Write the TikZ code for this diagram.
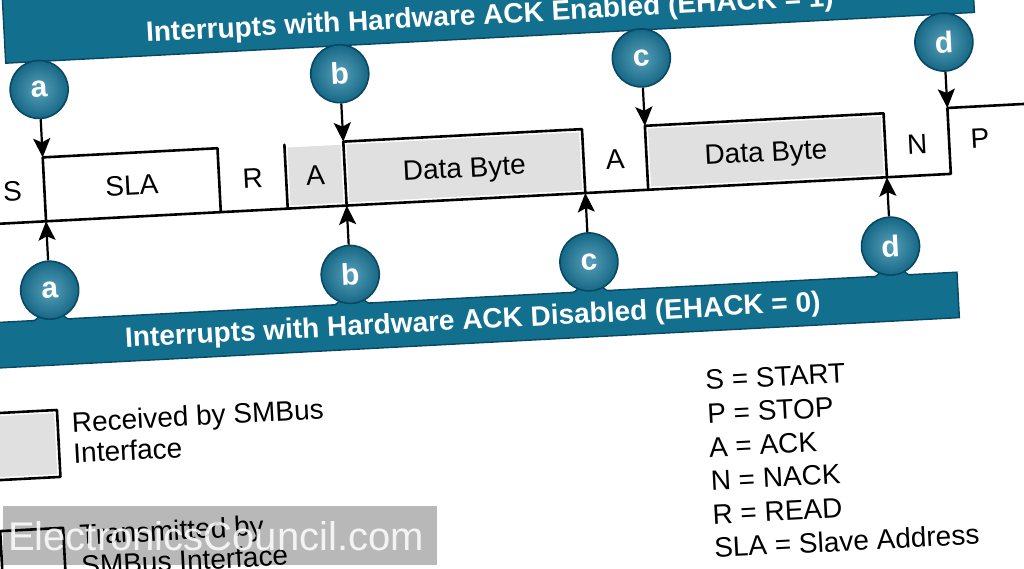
\documentclass[tikz,border=0pt]{standalone}
\usepackage{fontspec}
\setmainfont{Liberation Sans}
\usetikzlibrary{arrows.meta}
\definecolor{barfill}{RGB}{18,112,142}
\definecolor{barline}{RGB}{8,72,98}
\definecolor{balllight}{RGB}{88,160,185}
\definecolor{balldark}{RGB}{20,102,132}
\definecolor{boxgray}{RGB}{224,224,224}
\newcommand\botneck[1]{%
  \fill[barfill] (#1-21,298) -- (#1-21,296) .. controls (#1-13,296) and (#1-12,292) .. (#1-12,285)
     -- (#1+12,285) .. controls (#1+12,292) and (#1+13,296) .. (#1+21,296) -- (#1+21,298) -- cycle;
  \draw[barline,line width=1.4pt] (#1-21,296) .. controls (#1-13,296) and (#1-12,292) .. (#1-12,285);
  \draw[barline,line width=1.4pt] (#1+21,296) .. controls (#1+13,296) and (#1+12,292) .. (#1+12,285);
}
\begin{document}
\begin{tikzpicture}[x=1pt,y=-1pt,
  sig/.style={line width=2.6pt, line cap=round, line join=round},
  arr/.style={line width=2.2pt, -{Stealth[length=19pt,width=17pt,inset=4pt]}},
  bar/.style={fill=barfill, draw=barline, line width=1.4pt},
  bartext/.style={text=white, font=\fontsize{28}{32}\selectfont\bfseries, anchor=base, inner sep=0pt},
  ball/.style={circle, minimum size=58pt, inner sep=0pt, draw=barline, line width=1.6pt,
     inner color=balllight, outer color=balldark, text=white, font=\fontsize{30}{32}\selectfont\bfseries},
  lbl/.style={font=\fontsize{28}{32}\selectfont, anchor=base, inner sep=0pt},
  leg/.style={font=\fontsize{28}{32}\selectfont, anchor=base west, inner sep=0pt}]
\useasboundingbox (0,0) rectangle (1024,569);
\clip (0,0) rectangle (1024,569);
\begin{scope}[rotate around={3:(512,284.5)}, transform shape]
  % top bar
  \draw[bar] (18,-30) rectangle (988,37);
  \node[bartext] (toptitle) at (504,23) {Interrupts with Hardware ACK Enabled (EHACK = 1)};
  % bottom bar
  \draw[bar] (-40,295.5) rectangle (957,341);
  \node[bartext] (bottitle) at (471,327) {Interrupts with Hardware ACK Disabled (EHACK = 0)};
  % gray fills
  \fill[boxgray] (295,136) rectangle (348,194);
  \fill[boxgray] (354,136) rectangle (587,194);
  \fill[boxgray] (656,136) rectangle (889,194);
  % signal lines
  \draw[sig] (-20,197) -- (956,197) -- (956,131) -- (1100,131);
  \draw[sig] (50,197) -- (50,133) -- (225,133) -- (225,197);
  \draw[sig] (292,197) -- (292,133);
  \draw[sig] (351,197) -- (351,133) -- (590,133) -- (590,197);
  \draw[sig] (653,197) -- (653,133) -- (892,133) -- (892,197);
  % labels
  \node[lbl] (lS) at (18,175) {S};
  \node[lbl] (lSLA) at (137.5,175) {SLA};
  \node[lbl] (lR) at (258.5,175) {R};
  \node[lbl] (lA1) at (321.5,175) {A};
  \node[lbl] (lD1) at (470.5,175) {Data Byte};
  \node[lbl] (lA2) at (621.5,175) {A};
  \node[lbl] (lD2) at (772.5,175) {Data Byte};
  \node[lbl] (lN) at (924,175) {N};
  \node[lbl] (lP) at (987,173) {P};
  % arrow targets
  \coordinate (pta) at (50,133);
  \coordinate (ptb) at (351,133);
  \coordinate (ptc) at (653,133);
  \coordinate (ptd) at (956,131);
  \coordinate (pba) at (50,197);
  \coordinate (pbb) at (351,197);
  \coordinate (pbc) at (590,197);
  \coordinate (pbd) at (892,197);
  % top balls
  \node[ball] (ta) at (50,65) {a};
  \node[ball] (tb) at (351,65) {b};
  \node[ball] (tc) at (653,65) {c};
  \node[ball] (td) at (956,65) {d};
  % bottom balls
  \botneck{50}\botneck{351}\botneck{590}\botneck{892}
  \node[ball] (ba) at (50,266) {a};
  \node[ball] (bb) at (351,266) {b};
  \node[ball] (bc) at (590,266) {c};
  \node[ball] (bd) at (892,266) {d};
  % arrows
  \draw[arr] (ta) -- (pta);
  \draw[arr] (tb) -- (ptb);
  \draw[arr] (tc) -- (ptc);
  \draw[arr] (td) -- (ptd);
  \draw[arr] (ba) -- (pba);
  \draw[arr] (bb) -- (pbb);
  \draw[arr] (bc) -- (pbc);
  \draw[arr] (bd) -- (pbd);
  % legend boxes
  \fill[boxgray] (-12,389) rectangle (48,450);
  \draw[sig] (-12,386) rectangle (51,453);
  \draw[sig] (-12,504) rectangle (51,580);
  \node[leg] (rec1) at (65,409) {Received by SMBus};
  \node[leg] (rec2) at (65,440) {Interface};
  \node[leg] (tr1) at (67,522) {Transmitted by};
  \node[leg] (tr2) at (67,553) {SMBus Interface};
  % legend right
  \node[leg] (k1) at (700,400) {S = START};
  \node[leg] (k2) at (700,433.6) {P = STOP};
  \node[leg] (k3) at (700,467.2) {A = ACK};
  \node[leg] (k4) at (700,500.8) {N = NACK};
  \node[leg] (k5) at (700,534.4) {R = READ};
  \node[leg] (k6) at (700,568) {SLA = Slave Address};
\end{scope}
% watermark
\fill[black, opacity=0.28] (3,506) rectangle (437,565);
\node[text=white, opacity=0.85, font=\fontsize{40}{44}\selectfont, inner sep=0pt] (wm) at (216,536) {ElectronicsCouncil.com};
\end{tikzpicture}
\end{document}
